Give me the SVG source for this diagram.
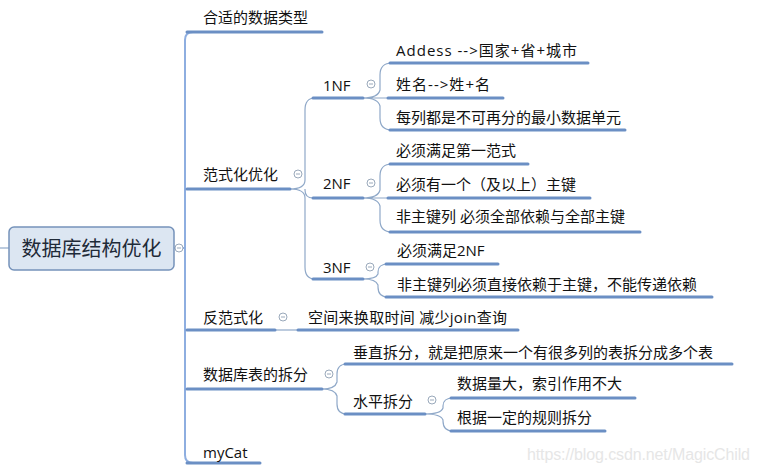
<svg xmlns="http://www.w3.org/2000/svg" width="759" height="473" viewBox="0 0 759 473">
<style>
.t{font-family:"Open Sans","Noto Sans CJK SC",sans-serif;font-size:15px;fill:#111;dominant-baseline:central}
.root{font-size:20px;fill:#1f2a38;text-anchor:middle}
.ul{stroke:#6b8fc4;stroke-width:3;fill:none;stroke-linecap:round}
.cn{stroke:#8fa8c8;stroke-width:1.2;fill:none}
.tr{stroke:#8eaee0;stroke-width:2;fill:none}
.wm{font-family:"Liberation Sans",sans-serif;font-size:16px;fill:#e6e6e6}
</style>
<defs>
<g id="btn"><circle r="4" fill="#fff" stroke="#9aa9bb" stroke-width="1"/><path d="M-2 0H2" stroke="#9aa9bb" stroke-width="1"/></g>
</defs>
<rect width="759" height="473" fill="#fff"/>
<text class="wm" x="527" y="460" textLength="223">https://blog.csdn.net/MagicChild</text>
<g id="connectors">
<path class="cn" d="M0 248H9"/>
<path class="tr" d="M174 248H185M193 32Q185 32 185 40V455Q185 463 193 463"/>
<path class="cn" d="M290 189Q305 189 305 180V110Q305 98 315 98M305 189V190Q305 198 313 198M290 189Q305 189 305 198V267Q305 279 315 279"/>
<path class="cn" d="M363 98Q378 98 380 90V75Q380 63 392 63M363 98H388M363 98Q378 98 380 106V118Q380 130 392 130"/>
<path class="cn" d="M363 198Q378 198 380 190V176Q380 164 392 164M363 198H388M363 198Q378 198 380 206V220Q380 232 392 232"/>
<path class="cn" d="M363 279Q376 279 378 274V272Q378 264 388 264M363 279Q376 279 378 285V287Q378 297 388 297"/>
<path class="cn" d="M275 330H298"/>
<path class="cn" d="M322 389Q335 389 337 382V374Q337 364 347 364M322 389Q335 389 337 396V404Q337 414 347 414"/>
<path class="cn" d="M425 414Q441 414 443 408V406Q443 398 453 398M425 414Q441 414 443 420V421Q443 431 453 431"/>
</g>
<g id="root">
<rect x="9" y="227" width="165" height="43" rx="5" fill="#dce6f2" stroke="#7592ba" stroke-width="1.5"/>
<text class="t root" x="91.5" y="248.5">数据库结构优化</text>
<use href="#btn" x="179" y="248"/>
</g>
<g id="n-type"><path class="ul" d="M187 32H322"/><text class="t" x="203" y="17">合适的数据类型</text></g>
<g id="n-norm"><path class="ul" d="M187 189H290"/><text class="t" x="203" y="174">范式化优化</text><use href="#btn" x="298" y="174"/></g>
<g id="n-1nf"><path class="ul" d="M313 98H363"/><text class="t" x="323" y="85">1NF</text><use href="#btn" x="371" y="84"/></g>
<g id="n-1a"><path class="ul" d="M390 63H588"/><text class="t" x="396" y="50" textLength="181">Addess --&gt;国家+省+城市</text></g>
<g id="n-1b"><path class="ul" d="M388 98H503"/><text class="t" x="396" y="84" textLength="94">姓名--&gt;姓+名</text></g>
<g id="n-1c"><path class="ul" d="M390 130H625"/><text class="t" x="396" y="117">每列都是不可再分的最小数据单元</text></g>
<g id="n-2nf"><path class="ul" d="M313 198H363"/><text class="t" x="323" y="183">2NF</text><use href="#btn" x="371" y="183"/></g>
<g id="n-2a"><path class="ul" d="M390 164H528"/><text class="t" x="396" y="150">必须满足第一范式</text></g>
<g id="n-2b"><path class="ul" d="M388 198H590"/><text class="t" x="396" y="184">必须有一个（及以上）主键</text></g>
<g id="n-2c"><path class="ul" d="M390 232H640"/><text class="t" x="396" y="216">非主键列 必须全部依赖与全部主键</text></g>
<g id="n-3nf"><path class="ul" d="M313 279H363"/><text class="t" x="323" y="267">3NF</text><use href="#btn" x="370" y="267"/></g>
<g id="n-3a"><path class="ul" d="M386 264H498"/><text class="t" x="397" y="250">必须满足2NF</text></g>
<g id="n-3b"><path class="ul" d="M386 297H712"/><text class="t" x="397" y="284">非主键列必须直接依赖于主键，不能传递依赖</text></g>
<g id="n-denorm"><path class="ul" d="M187 330H275"/><text class="t" x="203" y="317">反范式化</text><use href="#btn" x="283" y="317"/></g>
<g id="n-denorm-a"><path class="ul" d="M298 330H518"/><text class="t" x="308" y="317" textLength="199">空间来换取时间 减少join查询</text></g>
<g id="n-split"><path class="ul" d="M187 389H322"/><text class="t" x="203" y="374">数据库表的拆分</text><use href="#btn" x="329" y="374"/></g>
<g id="n-vsplit"><path class="ul" d="M345 364H732"/><text class="t" x="353" y="352">垂直拆分，就是把原来一个有很多列的表拆分成多个表</text></g>
<g id="n-hsplit"><path class="ul" d="M345 414H425"/><text class="t" x="353" y="401">水平拆分</text><use href="#btn" x="432" y="400"/></g>
<g id="n-h1"><path class="ul" d="M451 398H635"/><text class="t" x="457" y="383">数据量大，索引作用不大</text></g>
<g id="n-h2"><path class="ul" d="M451 431H605"/><text class="t" x="457" y="417">根据一定的规则拆分</text></g>
<g id="n-mycat"><path class="ul" d="M187 463H260"/><text class="t" x="203" y="452">myCat</text></g>
</svg>
